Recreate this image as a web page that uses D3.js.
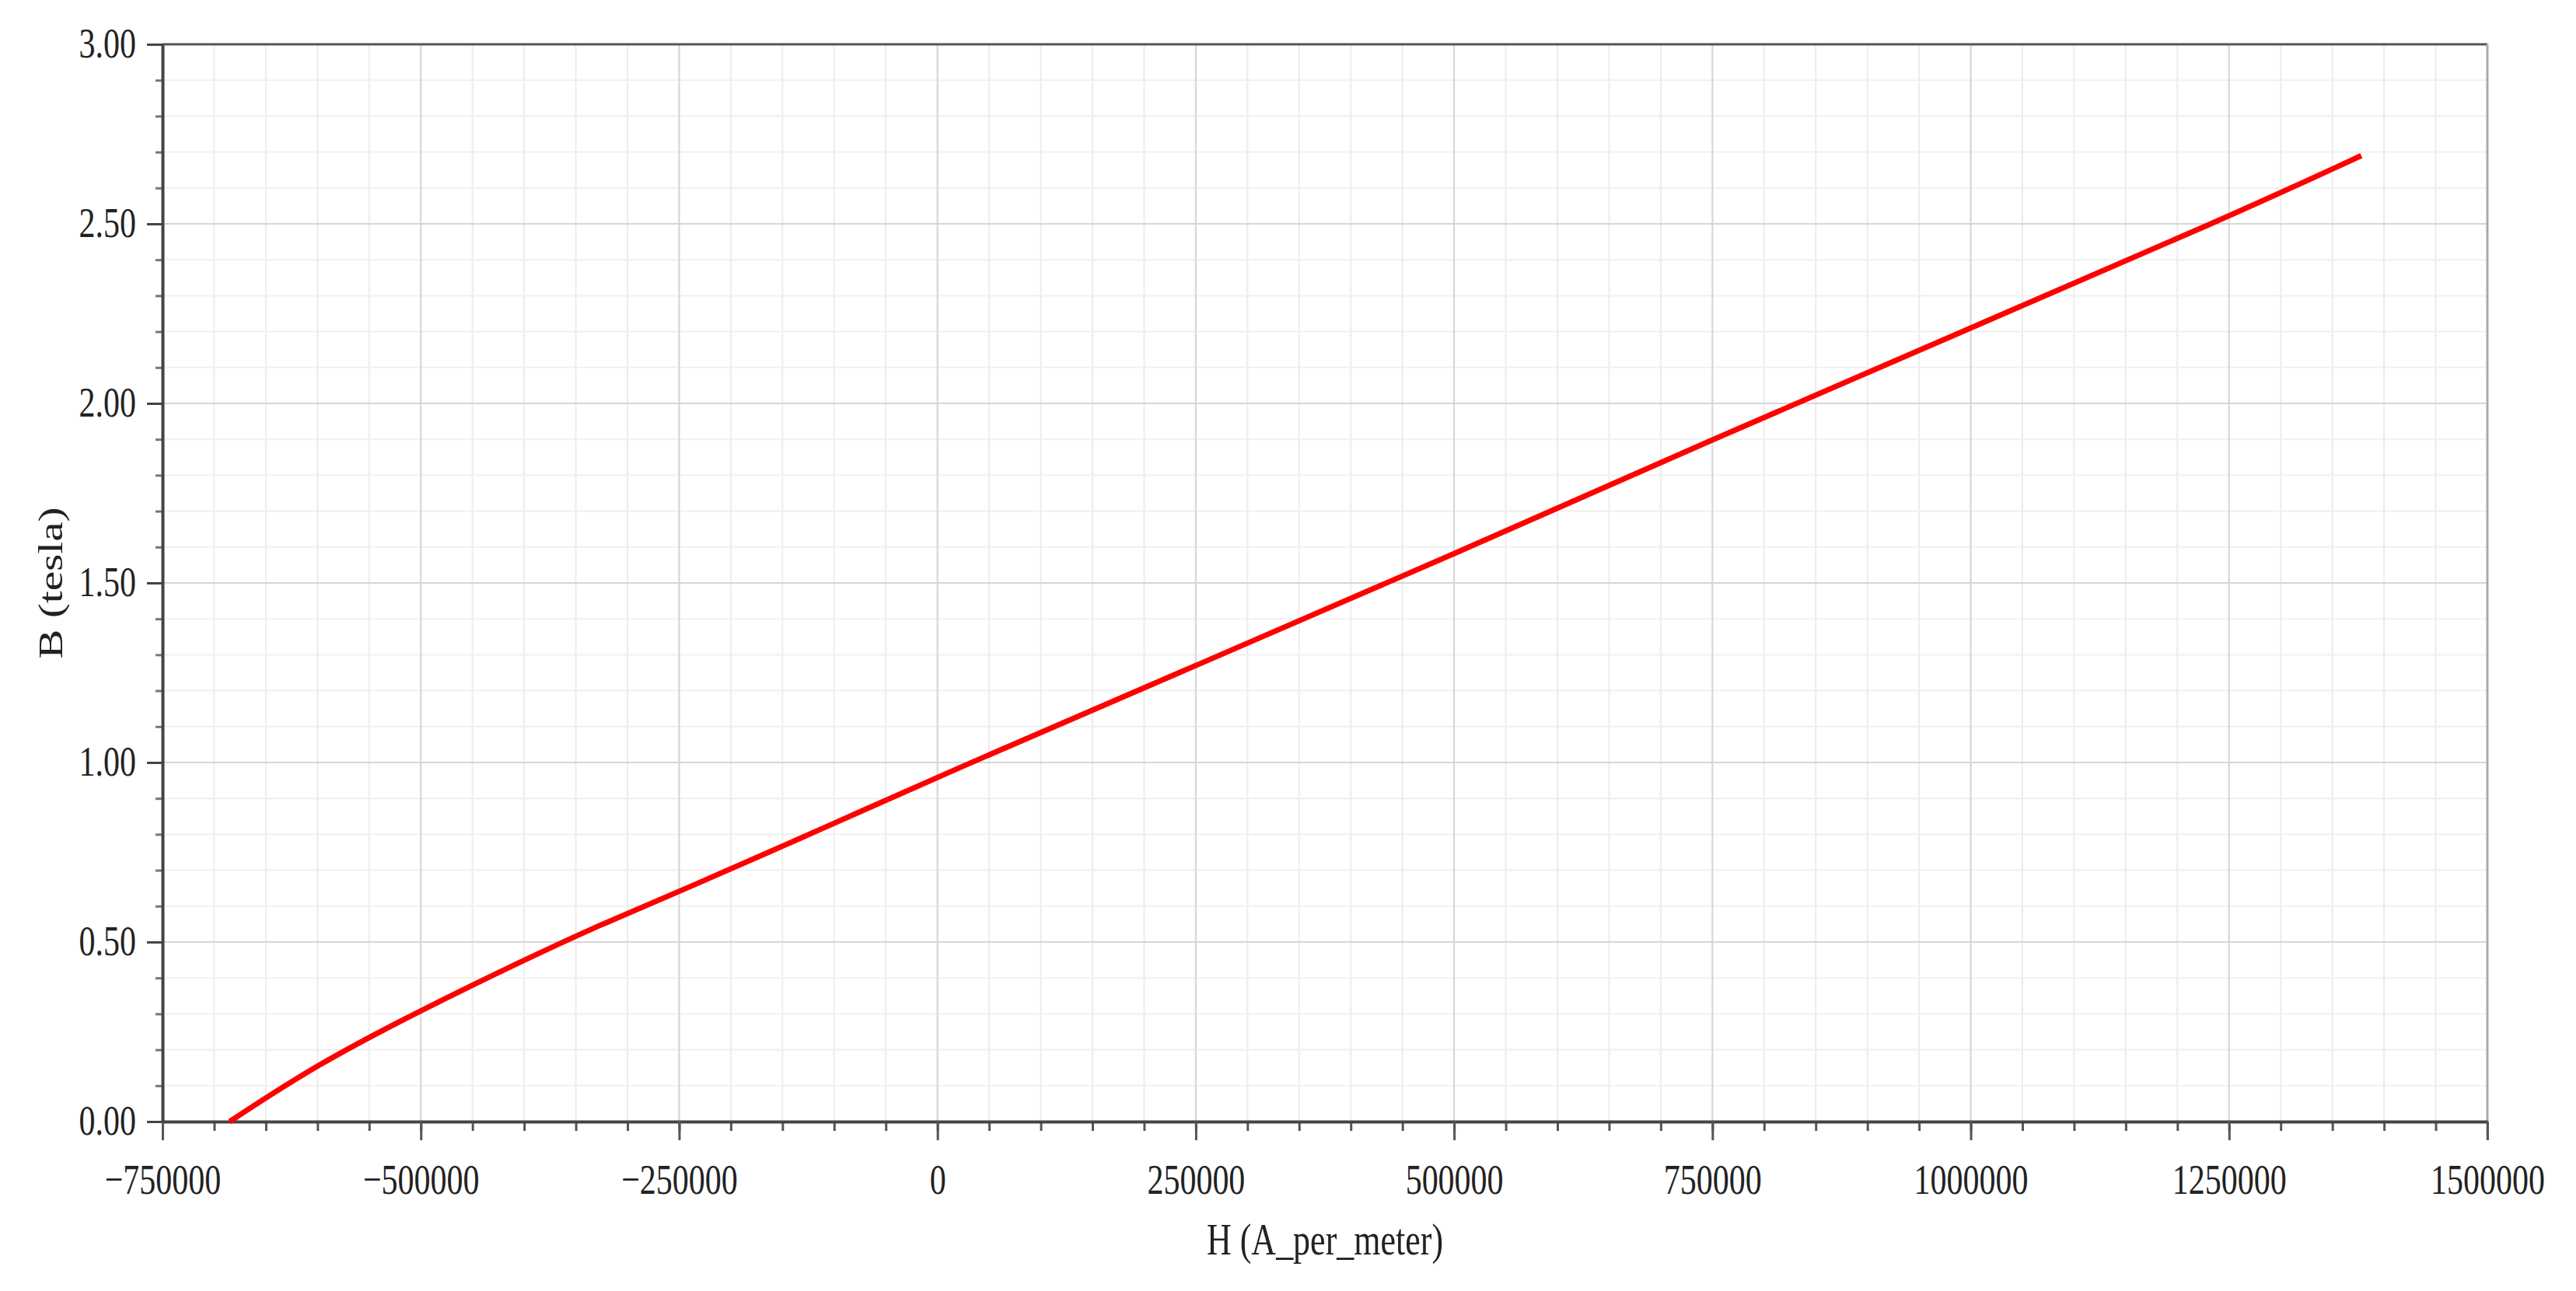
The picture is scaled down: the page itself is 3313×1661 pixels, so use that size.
<!DOCTYPE html>
<html><head><meta charset="utf-8">
<script src="https://cdn.jsdelivr.net/npm/d3@7"></script>
<style>body{margin:0;background:#fff}</style>
</head><body>
<svg id="c" width="3313" height="1661"></svg>
<script>
const H = [-685000,-600000,-500000,-400000,-325000,-250000,-100000,0,250000,500000,750000,1000000,1250000,1378000];
const B = [0.00,0.16,0.31,0.45,0.55,0.64,0.83,0.96,1.27,1.58,1.90,2.21,2.52,2.69];
const xTicks = [-750000,-500000,-250000,0,250000,500000,750000,1000000,1250000,1500000];
const yTicks = [0,0.5,1,1.5,2,2.5,3];
const xLabel = "H (A_per_meter)", yLabel = "B (tesla)";

const L=209,R=3199,T=57,Bt=1443;
const svg=d3.select("#c");
const x=d3.scaleLinear().domain([-750000,1500000]).range([L,R]);
const y=d3.scaleLinear().domain([0,3]).range([Bt,T]);
const xMinor=d3.range(-750000,1500001,50000), yMinor=d3.range(0,30.01,1).map(v=>v/10);

const g=svg.append("g");
g.selectAll(".vm").data(xMinor).join("line").attr("x1",d=>x(d)).attr("x2",d=>x(d)).attr("y1",T).attr("y2",Bt).attr("stroke","#ececec").attr("stroke-width",2);
g.selectAll(".hm").data(yMinor).join("line").attr("y1",d=>y(d)).attr("y2",d=>y(d)).attr("x1",L).attr("x2",R).attr("stroke","#f0f0f0").attr("stroke-width",2);
g.selectAll(".vM").data(xTicks).join("line").attr("x1",d=>x(d)).attr("x2",d=>x(d)).attr("y1",T).attr("y2",Bt).attr("stroke","#d6d6d6").attr("stroke-width",2);
g.selectAll(".hM").data(yTicks).join("line").attr("y1",d=>y(d)).attr("y2",d=>y(d)).attr("x1",L).attr("x2",R).attr("stroke","#d6d6d6").attr("stroke-width",2);

svg.append("line").attr("x1",L).attr("x2",R).attr("y1",T).attr("y2",T).attr("stroke","#555").attr("stroke-width",3);
svg.append("line").attr("x1",R).attr("x2",R).attr("y1",T).attr("y2",Bt+22).attr("stroke","#aaa").attr("stroke-width",3);

svg.append("g").attr("transform",`translate(0,${Bt})`).call(d3.axisBottom(x).tickValues(xMinor).tickSize(12).tickFormat("")).call(s=>{s.select(".domain").remove();s.selectAll("line").attr("stroke","#555").attr("stroke-width",3);});
svg.append("g").attr("transform",`translate(${L},0)`).call(d3.axisLeft(y).tickValues(yMinor).tickSize(9).tickFormat("")).call(s=>{s.select(".domain").remove();s.selectAll("line").attr("stroke","#777").attr("stroke-width",3);});

const sy=1.3;
const xa=svg.append("g").attr("transform",`translate(0,${Bt})`).call(d3.axisBottom(x).tickValues(xTicks).tickSize(24).tickSizeOuter(0).tickFormat(d3.format("d")));
xa.select(".domain").attr("stroke","#444").attr("stroke-width",4);
xa.selectAll("line").attr("stroke","#555").attr("stroke-width",3);
xa.selectAll("text").attr("font-family","Liberation Serif").attr("font-size",42).attr("fill","#222")
  .attr("dy","0.35em").attr("y",null).attr("transform",`translate(0,74) scale(1,${sy})`);

const ya=svg.append("g").attr("transform",`translate(${L},0)`).call(d3.axisLeft(y).tickValues(yTicks).tickSize(20).tickSizeOuter(0).tickPadding(14).tickFormat(d3.format(".2f")));
ya.select(".domain").attr("stroke","#444").attr("stroke-width",4);
ya.selectAll("line").attr("stroke","#444").attr("stroke-width",3);
ya.selectAll("text").attr("font-family","Liberation Serif").attr("font-size",42).attr("fill","#222")
  .attr("dy",null).attr("transform",`translate(0,16) scale(1,${sy})`);

svg.append("path").datum(H.map((h,i)=>[h,B[i]]))
  .attr("d",d3.line().x(d=>x(d[0])).y(d=>y(d[1])).curve(d3.curveBasis))
  .attr("fill","none").attr("stroke","#ff0000").attr("stroke-width",7);

svg.append("text").attr("transform",`translate(${(L+R)/2},1614) scale(1,${sy})`).attr("text-anchor","middle")
  .attr("font-family","Liberation Serif").attr("font-size",44).attr("fill","#222").text(xLabel);
svg.append("text").attr("transform",`translate(80,${(T+Bt)/2}) rotate(-90) scale(${sy},1)`).attr("text-anchor","middle")
  .attr("font-family","Liberation Serif").attr("font-size",44).attr("fill","#222").text(yLabel);
</script>
</body></html>
